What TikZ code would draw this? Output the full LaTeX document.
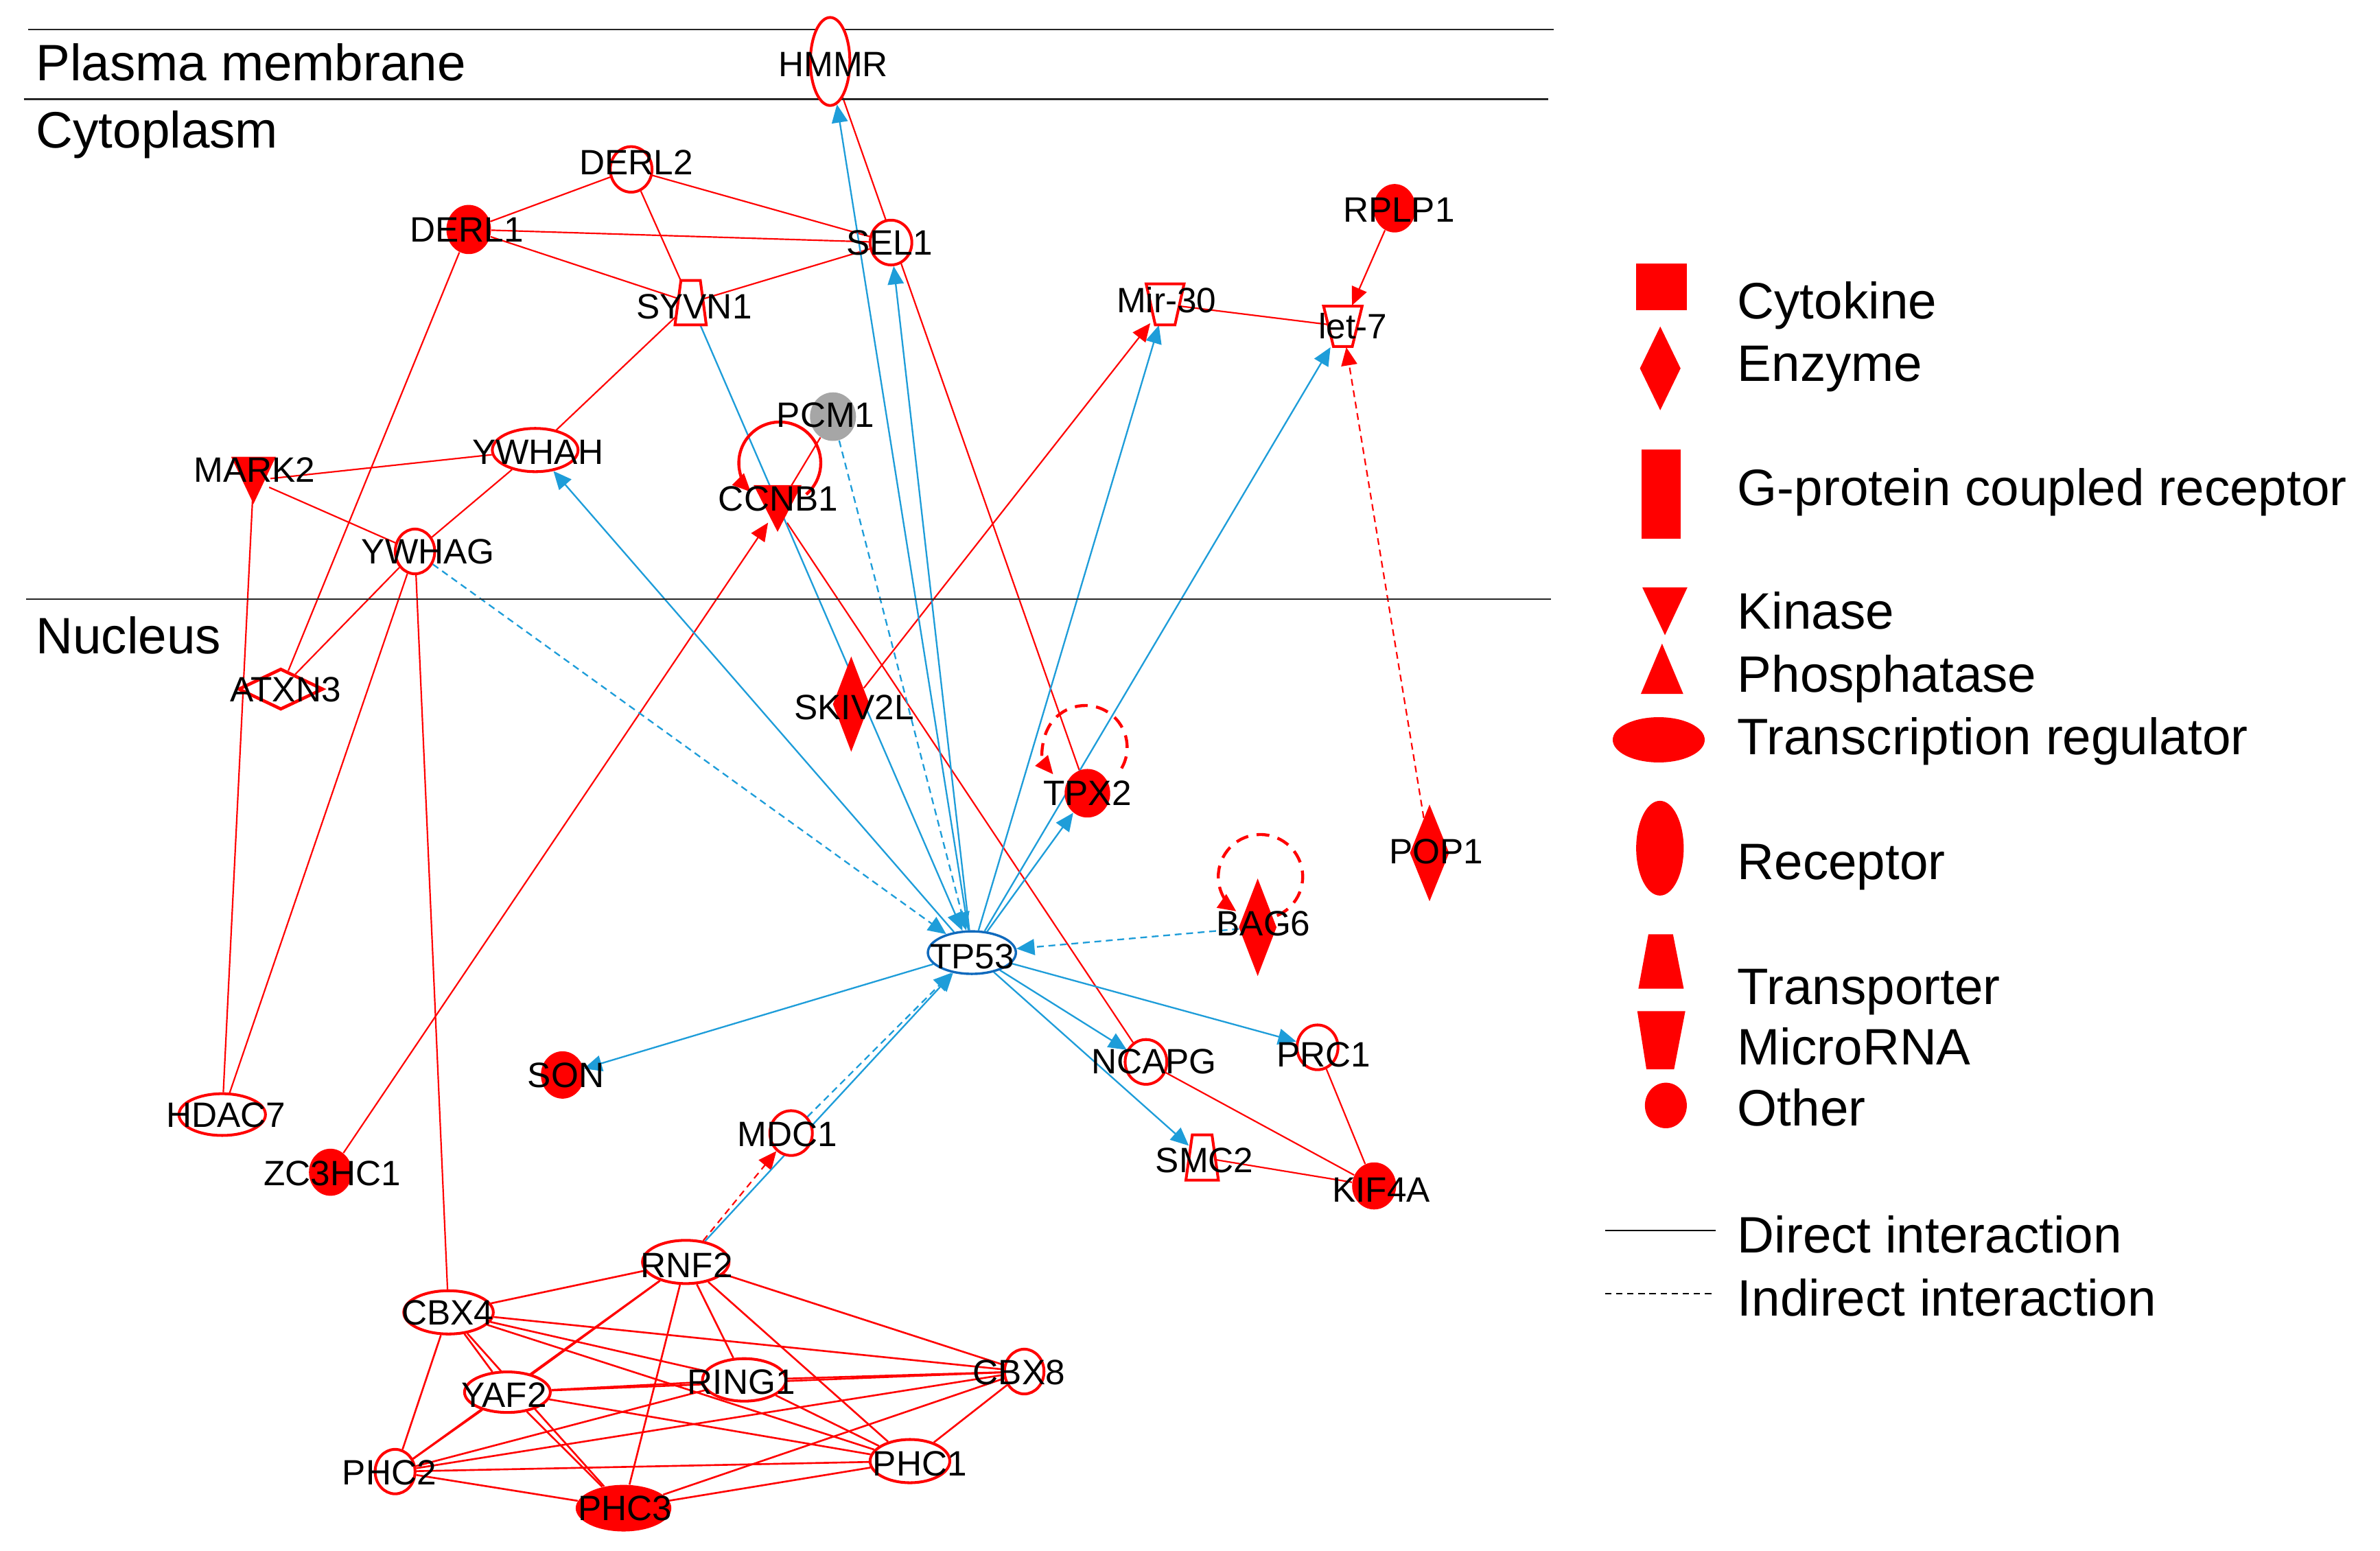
\documentclass[tikz,border=0pt]{standalone}
\usepackage{fontspec}
\setmainfont{Liberation Sans}
\usetikzlibrary{shapes.geometric,arrows.meta,calc}
\pgfdeclarelayer{background}
\pgfsetlayers{background,main}
\newlength\PX \setlength\PX{0.025cm}
\definecolor{nred}{RGB}{255,0,0}
\definecolor{eblue}{RGB}{30,157,217}
\definecolor{tpblue}{RGB}{16,106,189}
\definecolor{ngray}{RGB}{166,166,166}
\tikzset{
 lbl/.style={inner sep=0pt, font=\fontsize{16.5}{18}\selectfont},
 oc/.style={ellipse, draw=nred, line width=1.3pt, fill=white, inner sep=0pt},
 fc/.style={ellipse, fill=nred, inner sep=0pt},
 anc/.style={circle, inner sep=0pt, minimum size=22\PX},
 tanc/.style={rectangle, inner sep=0pt, minimum width=17\PX, minimum height=27\PX},
 dia/.style={diamond, fill=nred, inner sep=0pt},
 shp/.style={draw=nred, line width=1.3pt, fill=white},
 re/.style={draw=nred, line width=0.7pt},
 rc/.style={draw=nred, line width=0.85pt},
 rea/.style={re, ->, fill=nred},
 rdash/.style={re, ->, dash pattern=on 3.2pt off 2.2pt},
 rloop/.style={draw=nred, line width=1.4pt, ->},
 be/.style={draw=eblue, line width=0.75pt, ->},
 bdash/.style={be, dash pattern=on 3.2pt off 2.2pt},
 comp/.style={font=\fontsize{24}{27}\selectfont, anchor=base west, inner sep=0pt},
 leg/.style={font=\fontsize{24}{28}\selectfont, anchor=base west, inner sep=0pt},
 cline/.style={draw=black!85, line width=0.75pt},
}
\begin{document}
\begin{tikzpicture}[x=0.025cm, y=-0.025cm, >={Triangle[length=8.5pt,width=7.5pt]}]
\path[use as bounding box] (0,0) rectangle (1568,1021.8);

% compartments
\draw[cline] (18.7,19.4) -- (1023.8,19.4);
\draw[cline] (15.6,65.3) -- (1020,65.3);
\draw[cline] (17.3,394.6) -- (1022,394.6);
\node[comp] (cPM) at (23.5,53.2) {Plasma membrane};
\node[comp] (cCY) at (23.5,97.3) {Cytoplasm};
\node[comp] (cNU) at (23.5,430.5) {Nucleus};

% nodes
\node[oc, minimum width=26\PX, minimum height=58\PX] (HMMR) at (546.9,40.5) {};
\node[oc, minimum width=27.5\PX, minimum height=30\PX] (DERL2) at (415.8,111.6) {};
\node[fc, minimum width=29.4\PX, minimum height=32.4\PX] (DERL1) at (308.8,151.2) {};
\node[oc, minimum width=27.5\PX, minimum height=29.5\PX] (SEL1) at (587,159.8) {};
\node[tanc] (SYVN1) at (455,199.4) {};
\node[tanc, minimum width=19\PX] (Mir30) at (767.6,200.5) {};
\node[tanc, minimum width=19\PX] (let7) at (884.7,215) {};
\node[fc, minimum width=27.7\PX, minimum height=31.9\PX] (RPLP1) at (918.8,137.2) {};
\node[ellipse, fill=ngray, inner sep=0pt, minimum width=30.3\PX, minimum height=32\PX] (PCM1) at (548.8,274.5) {};
\node[anc] (CCNB1) at (512.3,335) {};
\node[oc, minimum width=56.5\PX, minimum height=28.5\PX] (YWHAH) at (352.6,296.5) {};
\node[anc] (MARK2) at (167,316.5) {};
\node[oc, minimum width=26\PX, minimum height=29.5\PX] (YWHAG) at (273.4,363.3) {};
\node[diamond, draw=nred, line width=1.5pt, fill=white, inner sep=0pt, minimum width=56\PX, minimum height=27\PX] (ATXN3) at (185,454) {};
\node[dia, minimum width=24.3\PX, minimum height=63\PX] (SKIV2L) at (560.8,463.9) {};
\node[fc, minimum width=30\PX, minimum height=32\PX] (TPX2) at (716.4,522.6) {};
\node[dia, minimum width=26\PX, minimum height=64\PX] (POP1) at (941.8,561.9) {};
\node[dia, minimum width=25\PX, minimum height=64.5\PX] (BAG6) at (828.6,610.9) {};
\node[ellipse, draw=tpblue, line width=1.1pt, fill=white, inner sep=0pt, minimum width=58\PX, minimum height=28\PX] (TP53) at (640.3,627.6) {};
\node[fc, minimum width=28.5\PX, minimum height=31.2\PX] (SON) at (370.6,708.2) {};
\node[oc, minimum width=27.5\PX, minimum height=29.5\PX] (NCAPG) at (755,699.6) {};
\node[oc, minimum width=27\PX, minimum height=29.5\PX] (PRC1) at (868,690) {};
\node[oc, minimum width=57\PX, minimum height=27.5\PX] (HDAC7) at (146.4,734.3) {};
\node[oc, minimum width=28\PX, minimum height=29.5\PX] (MDC1) at (521.2,746.5) {};
\node[fc, minimum width=28.3\PX, minimum height=31\PX] (ZC3HC1) at (217.7,772.3) {};
\node[tanc] (SMC2) at (792,762.6) {};
\node[fc, minimum width=29\PX, minimum height=31\PX] (KIF4A) at (905.3,781.3) {};
\node[oc, minimum width=57\PX, minimum height=28.5\PX] (RNF2) at (451.8,831.4) {};
\node[oc, minimum width=59\PX, minimum height=28.5\PX] (CBX4) at (295.5,864.6) {};
\node[oc, minimum width=26\PX, minimum height=29.5\PX] (CBX8) at (674.8,903.6) {};
\node[oc, minimum width=55\PX, minimum height=28\PX] (RING1) at (490.3,909.1) {};
\node[oc, minimum width=56.5\PX, minimum height=26.7\PX] (YAF2) at (334.3,917.2) {};
\node[oc, minimum width=26.3\PX, minimum height=29.3\PX] (PHC2) at (260.3,969.5) {};
\node[oc, minimum width=52.5\PX, minimum height=28.5\PX] (PHC1) at (599.5,962.6) {};
\node[fc, minimum width=63\PX, minimum height=30.7\PX] (PHC3) at (410.8,993.6) {};

% custom shapes
\fill[nred, shift={(CCNB1)}] (-15.8,-15.4) -- (15.8,-15.4) -- (0,15.4) -- cycle;
\fill[nred, shift={(MARK2)}] (-14.7,-15.5) -- (14.7,-15.5) -- (0,15.5) -- cycle;
\draw[shp, shift={(SYVN1)}] (-6.4,-14.6) -- (6.4,-14.6) -- (10.3,14.6) -- (-10.3,14.6) -- cycle;
\draw[shp, shift={(SMC2)}] (-6.5,-14.9) -- (6.5,-14.9) -- (10.7,14.9) -- (-10.7,14.9) -- cycle;
\draw[shp, shift={(Mir30)}] (-12.5,-13.5) -- (12.5,-13.5) -- (6.5,13.5) -- (-6.5,13.5) -- cycle;
\draw[shp, shift={(let7)}] (-12.7,-13.3) -- (12.7,-13.3) -- (6.2,13.3) -- (-6.2,13.3) -- cycle;

% edges
\begin{pgfonlayer}{background}
\foreach \a/\b in {DERL1/DERL2, DERL1/SEL1, DERL1/SYVN1, DERL2/SEL1, DERL2/SYVN1, SYVN1/SEL1,
  DERL1/ATXN3, SYVN1/YWHAH, MARK2/YWHAH, MARK2/YWHAG, YWHAH/YWHAG, YWHAG/ATXN3,
  YWHAG/HDAC7, MARK2/HDAC7, YWHAG/CBX4, PCM1/CCNB1, CCNB1/NCAPG, HMMR/TPX2,
  Mir30/let7, NCAPG/KIF4A, PRC1/KIF4A, SMC2/KIF4A}
  \draw[re] (\a) -- (\b);
\foreach \a/\b in {CBX4/RNF2, CBX4/CBX8, CBX4/RING1, CBX4/PHC1, CBX4/YAF2, CBX4/PHC3, CBX4/PHC2,
  RNF2/YAF2, RNF2/PHC2, RNF2/PHC3, RNF2/RING1, RNF2/PHC1, RNF2/CBX8,
  RING1/CBX8, RING1/YAF2, RING1/PHC2, RING1/PHC1,
  YAF2/CBX8, YAF2/PHC1, YAF2/PHC3, YAF2/PHC2,
  CBX8/PHC2, CBX8/PHC3, CBX8/PHC1, PHC2/PHC1, PHC2/PHC3, PHC3/PHC1}
  \draw[rc] (\a) -- (\b);
\draw[rea] (ZC3HC1) -- (CCNB1);
\draw[rea] (SKIV2L) -- (Mir30);
\draw[rea] (RPLP1) -- (let7);
\draw[rdash] (POP1) -- (let7);
\draw[rdash] (RNF2) -- (MDC1);
\foreach \b in {HMMR, SEL1, YWHAH, Mir30, let7, TPX2, SON, NCAPG, PRC1, SMC2}
  \draw[be] (TP53) -- (\b);
\draw[be] (SYVN1) -- (TP53);
\draw[be] (RNF2) -- (TP53);
\draw[bdash] (YWHAG) -- (TP53);
\draw[bdash] (PCM1) -- (TP53);
\draw[bdash] (BAG6) -- (TP53);
\draw[bdash] (MDC1) -- (TP53);
% self loops
\draw[rloop] ($(CCNB1)+(18.8,-9.3)$) arc[start angle=50, end angle=-225, radius=27];
\draw[rloop, dash pattern=on 6pt off 4pt] ($(TPX2)+(22.5,-16.4)$) arc[start angle=30, end angle=-220, radius=27.6];
\draw[rloop, dash pattern=on 6pt off 4pt] ($(BAG6)+(12.7,-7.7)$) arc[start angle=67, end angle=-235, radius=27.8];
\end{pgfonlayer}

% labels
\foreach \n/\t/\x/\y in {HMMR/HMMR/549/42.5, DERL2/DERL2/419.2/107, DERL1/DERL1/307.4/151.2,
  SEL1/SEL1/586/159.8, SYVN1/SYVN1/457.3/202, Mir30/Mir-30/768.5/197.6, let7/let-7/891.3/215,
  RPLP1/RPLP1/921.6/138.2, PCM1/PCM1/544/273.5, CCNB1/CCNB1/512.7/328.6, YWHAH/YWHAH/354.3/297.8,
  MARK2/MARK2/167.8/309.5, YWHAG/YWHAG/282/363.6, ATXN3/ATXN3/188/454.5, SKIV2L/SKIV2L/562.7/466.2,
  TPX2/TPX2/716.4/522.5, POP1/POP1/946.3/561, BAG6/BAG6/832.4/608.6, TP53/TP53/640.5/630,
  SON/SON/372.8/708.3, NCAPG/NCAPG/760.3/699.6, PRC1/PRC1/872/694.8, HDAC7/HDAC7/149/734.8,
  MDC1/MDC1/518.8/747.5, ZC3HC1/ZC3HC1/218.9/773, SMC2/SMC2/793.6/764.5, KIF4A/KIF4A/910/784,
  RNF2/RNF2/452.4/833.6, CBX4/CBX4/295/864.7, CBX8/CBX8/671.3/904.3, RING1/RING1/488.4/910.7,
  YAF2/YAF2/332/918.8, PHC2/PHC2/256.5/970, PHC1/PHC1/606/964.3, PHC3/PHC3/411.7/993.9}
  \node[lbl] (t\n) at (\x,\y) {\t};

% legend
\fill[nred] (1078,173.5) rectangle (1111.3,204.4);
\node[dia, minimum width=27\PX, minimum height=55.4\PX] (lgEnz) at (1093.8,242.7) {};
\fill[nred] (1081.3,296.2) rectangle (1107.3,354.8);
\fill[nred] (1082,387) -- (1111.7,387) -- (1096.9,418.5) -- cycle;
\fill[nred] (1081,457.2) -- (1109,457.2) -- (1095,424) -- cycle;
\node[fc, minimum width=60.6\PX, minimum height=29.8\PX] (lgTR) at (1092.8,487.4) {};
\node[fc, minimum width=31.3\PX, minimum height=62.4\PX] (lgRec) at (1093.6,558.8) {};
\fill[nred] (1086,615.5) -- (1102.2,615.5) -- (1109.3,651.4) -- (1079.4,651.4) -- cycle;
\fill[nred] (1078.7,666.2) -- (1110.3,666.2) -- (1102.9,704.5) -- (1084.7,704.5) -- cycle;
\node[fc, minimum width=27.6\PX, minimum height=30\PX] (lgOth) at (1097.5,728.3) {};
\draw[black, line width=0.6pt] (1057.4,810.6) -- (1130.2,810.6);
\draw[black, line width=0.6pt, dash pattern=on 3pt off 2.2pt] (1057.4,852.1) -- (1130.2,852.1);
\node[leg] (l1) at (1144.4,210) {Cytokine};
\node[leg] (l2) at (1144.4,251) {Enzyme};
\node[leg] (l3) at (1144.4,333) {G-protein coupled receptor};
\node[leg] (l4) at (1144.4,414.6) {Kinase};
\node[leg] (l5) at (1144.4,456) {Phosphatase};
\node[leg] (l6) at (1144.4,497) {Transcription regulator};
\node[leg] (l7) at (1144.4,579.5) {Receptor};
\node[leg] (l8) at (1144.4,661.5) {Transporter};
\node[leg] (l9) at (1144.4,701.7) {MicroRNA};
\node[leg] (l10) at (1144.4,741.5) {Other};
\node[leg] (l11) at (1144.4,825.4) {Direct interaction};
\node[leg] (l12) at (1144.4,867) {Indirect interaction};
\end{tikzpicture}
\end{document}
